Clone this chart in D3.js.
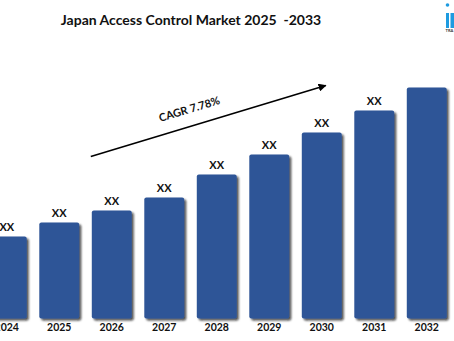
<!DOCTYPE html>
<html>
<head>
<meta charset="utf-8">
<script src="https://cdn.jsdelivr.net/npm/d3@7"></script>
<style>
  body { margin: 0; background: #ffffff; }
  svg { display: block; }
</style>
</head>
<body>
<div id="chart"></div>
<script>
// ---- data ----
const years = ["2024", "2025", "2026", "2027", "2028", "2029", "2030", "2031", "2032"];
const values = [8.2, 9.6, 10.8, 12.1, 14.4, 16.4, 18.6, 20.8, 23.1];
const valueLabels = ["XX", "XX", "XX", "XX", "XX", "XX", "XX", "XX", ""];
const titleText = "Japan Access Control Market 2025  -2033";
const cagrText = "CAGR 7.78%";
const arrowFrom = { year: "2026", value: 16.2 };
const arrowTo = { year: "2030", value: 23.3 };
const logoText = "TRA";

// ---- layout ----
const W = 454, H = 341;
const baseY = 318.5;
const barColor = "#2F5597";
const font = "Lato, 'Open Sans', sans-serif";

const svg = d3.select("#chart").append("svg")
  .attr("width", W).attr("height", H)
  .style("background", "#ffffff");

const defs = svg.append("defs");
const shadow = defs.append("filter").attr("id", "shadow")
  .attr("x", "-20%").attr("y", "-20%").attr("width", "150%").attr("height", "150%");
shadow.append("feDropShadow")
  .attr("dx", 2).attr("dy", 2).attr("stdDeviation", 1)
  .attr("flood-color", "#111").attr("flood-opacity", 0.75);

const marker = defs.append("marker").attr("id", "arrowhead")
  .attr("viewBox", "0 0 10 10").attr("refX", 9).attr("refY", 5)
  .attr("markerWidth", 5).attr("markerHeight", 5).attr("orient", "auto");
marker.append("path").attr("d", "M0,0 L10,5 L0,10 z").attr("fill", "#000");

const x = d3.scaleBand()
  .domain(years)
  .range([-19.5, 453])
  .paddingInner(0.24)
  .paddingOuter(0.12);

const y = d3.scaleLinear()
  .domain([0, 25])
  .range([baseY, baseY - 250]);

// title
svg.append("text")
  .attr("x", 191).attr("y", 25)
  .attr("text-anchor", "middle")
  .style("white-space", "pre")
  .attr("font-family", font)
  .attr("font-weight", "bold")
  .attr("font-size", 14)
  .attr("fill", "#111")
  .text(titleText);

// bars
svg.append("g").selectAll("rect")
  .data(years)
  .join("rect")
  .attr("x", d => x(d))
  .attr("y", (d, i) => y(values[i]))
  .attr("width", x.bandwidth())
  .attr("height", (d, i) => baseY - y(values[i]))
  .attr("rx", 2)
  .attr("fill", barColor)
  .attr("filter", "url(#shadow)");

// value labels
svg.append("g").selectAll("text")
  .data(years)
  .join("text")
  .attr("x", d => x(d) + x.bandwidth() / 2)
  .attr("y", (d, i) => y(values[i]) - 6)
  .attr("text-anchor", "middle")
  .attr("font-family", font)
  .attr("font-weight", "bold")
  .attr("font-size", 11)
  .attr("fill", "#111")
  .text((d, i) => valueLabels[i]);

// x axis
const xAxis = svg.append("g")
  .attr("transform", `translate(0,${baseY})`)
  .call(d3.axisBottom(x).tickSize(0).tickPadding(5));
xAxis.select(".domain").remove();
xAxis.selectAll("text")
  .attr("font-family", font)
  .attr("font-weight", "bold")
  .attr("font-size", 10.5)
  .attr("fill", "#111");

// CAGR arrow
const ax1 = x(arrowFrom.year) - 1, ay1 = y(arrowFrom.value);
const ax2 = x(arrowTo.year) + x.bandwidth() / 2 + 4, ay2 = y(arrowTo.value);
svg.append("line")
  .attr("x1", ax1).attr("y1", ay1)
  .attr("x2", ax2).attr("y2", ay2)
  .attr("stroke", "#000").attr("stroke-width", 1.6)
  .attr("marker-end", "url(#arrowhead)");

const ang = Math.atan2(ay2 - ay1, ax2 - ax1) * 180 / Math.PI;
const t = 0.44;
svg.append("g")
  .attr("transform", `translate(${ax1 + t * (ax2 - ax1)},${ay1 + t * (ay2 - ay1)}) rotate(${ang})`)
  .append("text")
  .attr("x", 0).attr("y", -13)
  .attr("text-anchor", "middle")
  .attr("font-family", font)
  .attr("font-weight", "bold")
  .attr("font-size", 11)
  .attr("fill", "#111")
  .text(cagrText);

// logo (clipped at the right edge)
const logo = svg.append("g").attr("fill", "#1E9BE0");
logo.append("circle").attr("cx", 447.5).attr("cy", 5).attr("r", 1.8);
logo.append("rect").attr("x", 446).attr("y", 13).attr("width", 3).attr("height", 15);
logo.append("rect").attr("x", 450.5).attr("y", 13).attr("width", 4).attr("height", 15);
svg.append("text")
  .attr("x", 445.5).attr("y", 32)
  .attr("font-family", font)
  .attr("font-weight", "bold")
  .attr("font-size", 4)
  .attr("fill", "#333")
  .text(logoText);
</script>
</body>
</html>
